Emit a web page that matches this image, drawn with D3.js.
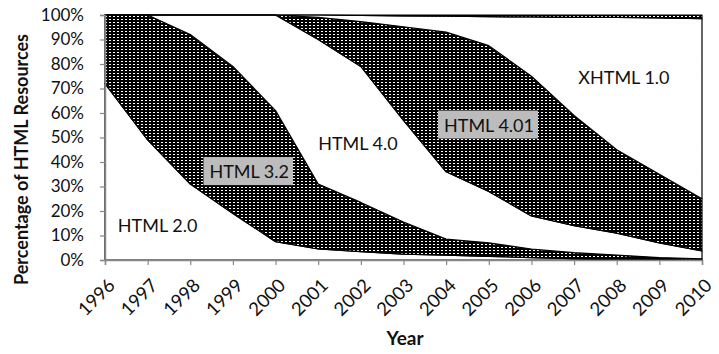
<!DOCTYPE html>
<html>
<head>
<meta charset="utf-8">
<script src="https://cdn.jsdelivr.net/npm/d3@7"></script>
<style>
  body { margin: 0; background: #fff; }
  text { font-family: Lato, "Open Sans", sans-serif; fill: #111; }
</style>
</head>
<body>
<svg id="chart" width="719" height="354"></svg>
<script>
// Share of HTML resources by doctype version (percent, each year sums to 100)
const years = [1996, 1997, 1998, 1999, 2000, 2001, 2002, 2003, 2004, 2005, 2006, 2007, 2008, 2009, 2010];
const html20   = [72, 49, 31, 19, 7.5, 4.5, 3.4, 2.4, 2, 1.5, 1, 0.6, 0.3, 0.2, 0.1];
const html32   = [28, 51, 61, 60, 53.5, 26.5, 20.1, 13.1, 6.5, 5.5, 3.5, 2.4, 1.7, 0.8, 0.4];
const html40   = [0, 0, 8, 21, 39, 59, 55.5, 41.5, 27.5, 21, 13.5, 11, 9, 6, 3.2];
const html401  = [0, 0, 0, 0, 0, 9, 18.3, 38.2, 57, 59.5, 57, 45, 34, 28, 21.3];
const xhtml10  = [0, 0, 0, 0, 0, 1, 2.5, 4.4, 6.5, 11.8, 24.2, 40, 54, 63.8, 73.5];
const xhtml11  = [0, 0, 0, 0, 0, 0, 0.2, 0.4, 0.5, 0.7, 0.8, 1, 1, 1.2, 1.5];

const seriesNames = ["HTML 2.0", "HTML 3.2", "HTML 4.0", "HTML 4.01", "XHTML 1.0", "XHTML 1.1"];
const seriesValues = [html20, html32, html40, html401, xhtml10, xhtml11];
const yTicks = [0, 10, 20, 30, 40, 50, 60, 70, 80, 90, 100];

// where the in-chart labels sit (year, percent)
const labelSpots = [
  { name: "HTML 2.0",  year: 1996.3,  pct: 14,   boxed: false },
  { name: "HTML 3.2",  year: 1998.45, pct: 36,   boxed: true },
  { name: "HTML 4.0",  year: 2001.0,  pct: 47.5, boxed: false },
  { name: "HTML 4.01", year: 2003.95, pct: 55,   boxed: true },
  { name: "XHTML 1.0", year: 2007.1,  pct: 74.5, boxed: false }
];

const svg = d3.select('#chart');
const margin = { top: 15, right: 17, bottom: 94, left: 105 };
const width = 719 - margin.left - margin.right;
const height = 354 - margin.top - margin.bottom;

// dark dotted fill like the old Excel pattern
const defs = svg.append('defs');
const pat = defs.append('pattern')
    .attr('id', 'dots')
    .attr('width', 4).attr('height', 3)
    .attr('patternUnits', 'userSpaceOnUse');
pat.append('rect').attr('width', 4).attr('height', 3).attr('fill', '#000');
pat.append('rect').attr('x', 0).attr('y', 1).attr('width', 2).attr('height', 1).attr('fill', '#fff');

const g = svg.append('g').attr('transform', `translate(${margin.left},${margin.top})`);

const x = d3.scaleLinear().domain([years[0], years[years.length - 1]]).range([0, width]);
const y = d3.scaleLinear().domain([0, 100]).range([height, 0]);

const table = years.map((yr, i) => {
    const row = { year: yr };
    seriesNames.forEach((n, k) => { row[n] = seriesValues[k][i]; });
    return row;
});

const stacked = d3.stack().keys(seriesNames)(table);

const area = d3.area()
    .x(d => x(d.data.year))
    .y0(d => y(d[0]))
    .y1(d => y(d[1]));

const patterned = new Set(["HTML 3.2", "HTML 4.01", "XHTML 1.1"]);

g.selectAll('.layer')
    .data(stacked)
    .enter().append('path')
    .attr('class', 'layer')
    .attr('d', area)
    .attr('fill', d => patterned.has(d.key) ? 'url(#dots)' : '#fff')
    .attr('stroke', '#000')
    .attr('stroke-width', 1.2)
    .attr('stroke-linejoin', 'round');

// axes
const yAxis = g.append('g')
    .call(d3.axisLeft(y).tickValues(yTicks).tickSize(5).tickPadding(16).tickFormat(d => d + '%'));
const xAxis = g.append('g')
    .attr('transform', `translate(0,${height})`)
    .call(d3.axisBottom(x).tickValues(years).tickSize(5).tickFormat(d3.format('d')));

[yAxis, xAxis].forEach(a => {
    a.select('.domain').attr('stroke', '#888').attr('stroke-width', 1.5);
    a.selectAll('.tick line').attr('stroke', '#888').attr('stroke-width', 1.2);
    a.selectAll('text').style('font-family', 'Lato, sans-serif').style('font-size', '17px').attr('fill', '#111');
});

xAxis.selectAll('.tick text')
    .style('font-size', '18.5px')
    .attr('text-anchor', 'end')
    .attr('dy', '0.35em')
    .attr('transform', 'translate(6,22) rotate(-45)')
    .attr('y', 0).attr('x', 0);

// in-chart labels
labelSpots.forEach(s => {
    const lg = g.append('g').attr('transform', `translate(${x(s.year)},${y(s.pct)})`);
    const t = lg.append('text')
        .attr('dy', '0.35em')
        .style('font-size', '18px')
        .text(s.name);
    if (s.boxed) {
        const bb = t.node().getBBox();
        lg.insert('rect', 'text')
            .attr('x', bb.x - 6).attr('y', bb.y - 3)
            .attr('width', bb.width + 10).attr('height', bb.height + 6)
            .attr('fill', '#bcbcbc');
    }
});

// titles
svg.append('text')
    .attr('transform', `translate(28,${margin.top + height / 2 + 22}) rotate(-90)`)
    .attr('text-anchor', 'middle')
    .style('font-size', '18px')
    .style('font-weight', 'bold')
    .text('Percentage of HTML Resources');

svg.append('text')
    .attr('x', 405).attr('y', 345)
    .attr('text-anchor', 'middle')
    .style('font-size', '19px')
    .style('font-weight', 'bold')
    .text('Year');
</script>
</body>
</html>
